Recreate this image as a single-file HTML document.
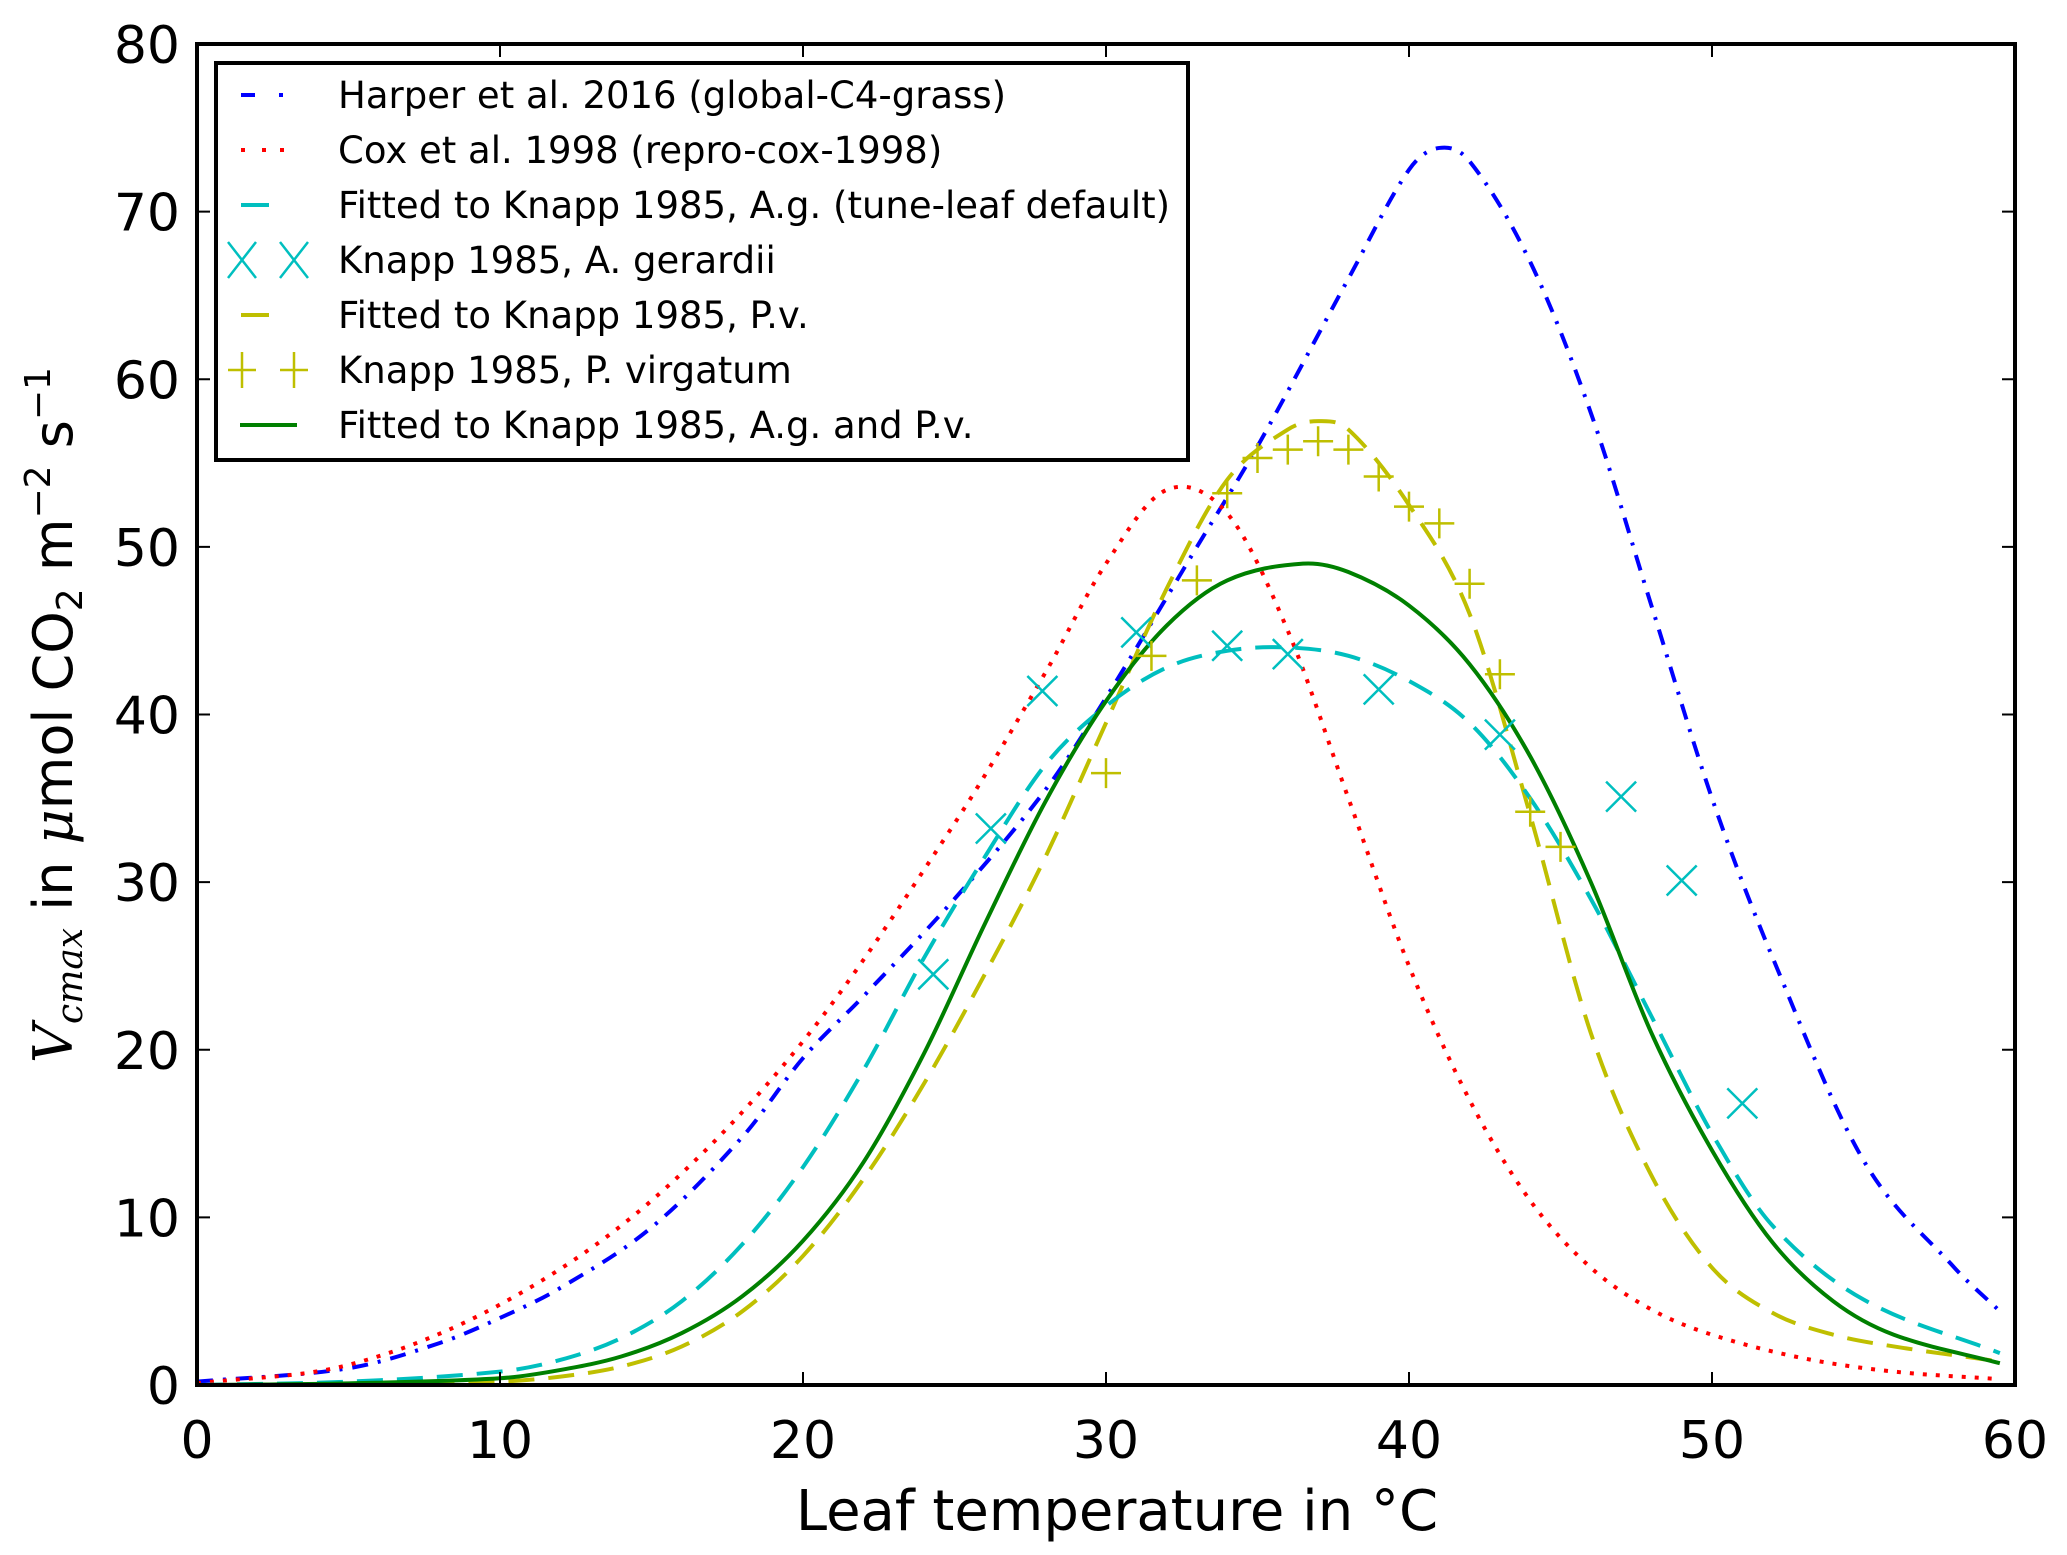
<!DOCTYPE html>
<html><head><meta charset="utf-8"><style>
html,body{margin:0;padding:0;background:#fff;}
svg{display:block;font-family:"DejaVu Sans","Liberation Sans",sans-serif;}
</style></head><body>
<svg id="chart" width="2067" height="1555" viewBox="0 0 2067 1555">
<rect width="2067" height="1555" fill="#fff"/>
<g id="curves"></g>
<g id="axes"></g>
<g id="legend"></g>
<text x="1117" y="1530" text-anchor="middle" font-size="56">Leaf temperature in °C</text>
<text transform="translate(72,715) rotate(-90)" text-anchor="middle" font-size="54"><tspan font-family="DejaVu Serif,serif" font-style="italic">V</tspan><tspan font-family="DejaVu Serif,serif" font-style="italic" font-size="36" dy="10">cmax</tspan><tspan dy="-10"> in </tspan><tspan font-family="DejaVu Serif,serif" font-style="italic">μ</tspan><tspan>mol CO</tspan><tspan font-size="36" dy="10">2</tspan><tspan dy="-10"> m</tspan><tspan font-size="36" dy="-22">−2</tspan><tspan dy="22"> s</tspan><tspan font-size="36" dy="-22">−1</tspan></text>
</svg>
<script>
const xTicks=[0,10,20,30,40,50,60];
const yTicks=[0,10,20,30,40,50,60,70,80];
const harperT=[0,5,8,10,12,15,18,20,22,25,28,30,33,35,38,40,41,42,44,46,48,50,52,55,58,59.5];
const harperV=[0.2,1,2.5,4,5.8,9.4,14.8,19.5,23.2,29,35.5,41,50,56,66,72.5,73.8,73,67,58,46.5,35,25.5,13.4,7,4.4];
const coxT=[0,5,10,15,20,25,28,30,32,34,36,38,40,42,44,46,48,50,53,56,59.5];
const coxV=[0.1,1.2,4.8,11,20.5,33.5,42.5,49,53.4,52,45,35,25,17,11,7,4.5,3,1.6,0.8,0.35];
const fitAgT=[0,5,10,12,14,16,18,20,22,24,26,28,30,32,34,36,38,40,42,44,46,48,50,52,55,59.5];
const fitAgV=[0,0.2,0.8,1.5,2.8,5,8.4,13,18.8,25.5,31.5,37,40.5,42.8,43.8,44,43.5,42,39.5,35,29,22,15,9.5,5.1,1.9];
const fitPvT=[5,10,12,14,16,18,20,22,24,26,28,30,32,34,36,37,38,40,42,44,46,48,50,52,54,56,59.5];
const fitPvV=[0,0.2,0.5,1.1,2.3,4.4,7.7,12.3,18,24.5,31.5,39.5,47.5,54,57,57.5,57,52.5,46,34,21,12.5,7,4.3,3,2.3,1.4];
const fitBothT=[0,5,10,12,14,16,18,20,22,24,26,28,30,32,34,36.5,38,40,42,44,46,48,50,52,54,56,59.5];
const fitBothV=[0,0.1,0.4,0.9,1.7,3.1,5.3,8.6,13.3,19.8,27.5,34.8,40.8,45.3,48,49,48.5,46.5,43,37.5,30,21,14,8.5,5,3,1.3];
const agT=[24.3,26.2,27.9,31,34,36,39,43,47,49,51];
const agV=[24.5,33.2,41.4,44.9,44.1,43.6,41.5,38.8,35.1,30.1,16.8];
const pvT=[30,31.5,33,34,35,36,37,38,39,40,41,42,43,44,45];
const pvV=[36.5,43.5,48,53.2,55.3,55.8,56.3,55.8,54.2,52.4,51.4,47.8,42.4,34.2,32.1];

const X0=197,X1=2015,Y0=1385,Y1=44;
const sx=t=>X0+(t-0)/60*(X1-X0);
const sy=v=>Y0-(v/80)*(Y0-Y1);
const NS="http://www.w3.org/2000/svg";
function mk(tag,attrs,parent){const e=document.createElementNS(NS,tag);for(const k in attrs)e.setAttribute(k,attrs[k]);parent.appendChild(e);return e;}
function pathD(T,V){const n=T.length;const m=[];
for(let i=0;i<n;i++){if(i==0)m.push((V[1]-V[0])/(T[1]-T[0]));else if(i==n-1)m.push((V[n-1]-V[n-2])/(T[n-1]-T[n-2]));
else m.push((V[i+1]-V[i-1])/(T[i+1]-T[i-1]));}
let d="M"+sx(T[0])+","+sy(V[0]);
for(let i=0;i<n-1;i++){const h=T[i+1]-T[i];
d+=` C${sx(T[i]+h/3)},${sy(V[i]+m[i]*h/3)} ${sx(T[i+1]-h/3)},${sy(V[i+1]-m[i+1]*h/3)} ${sx(T[i+1])},${sy(V[i+1])}`;}
return d;}
const curves=document.getElementById('curves');
const series=[
 [harperT,harperV,'#0000ff','16 10 3 10','harper-2016-line'],
 [coxT,coxV,'#ff0000','4 9','cox-1998-line'],
 [fitPvT,fitPvV,'#bfbf00','26 14','fitted-pv-line'],
 [fitAgT,fitAgV,'#00bfbf','26 14','fitted-ag-line'],
 [fitBothT,fitBothV,'#008000','none','fitted-ag-pv-line']];
series.forEach(s=>{const el=mk('path',{d:pathD(s[0],s[1]),fill:'none',stroke:s[2],'stroke-width':4,'stroke-dasharray':s[3]},curves);

});
const m=15;
agT.forEach((t,i)=>{const x=sx(t),y=sy(agV[i]);
const g=mk('path',{d:`M${x-m},${y-m}L${x+m},${y+m}M${x-m},${y+m}L${x+m},${y-m}`,stroke:'#00bfbf','stroke-width':2.5,fill:'none'},curves);

});
pvT.forEach((t,i)=>{const x=sx(t),y=sy(pvV[i]);
const g=mk('path',{d:`M${x-m},${y}L${x+m},${y}M${x},${y-m}L${x},${y+m}`,stroke:'#bfbf00','stroke-width':2.5,fill:'none'},curves);

});
const axes=document.getElementById('axes');
const fr=mk('rect',{x:X0,y:Y1,width:X1-X0,height:Y0-Y1,fill:'none',stroke:'#000','stroke-width':4},axes);


xTicks.forEach(t=>{const x=sx(t);
mk('path',{d:`M${x},${Y0}v-13M${x},${Y1}v13`,stroke:'#000','stroke-width':2},axes);
const l=mk('text',{x:x,y:1458,'text-anchor':'middle','font-size':52},axes);l.textContent=t;

});
yTicks.forEach(v=>{const y=sy(v);
mk('path',{d:`M${X0},${y}h13M${X1},${y}h-13`,stroke:'#000','stroke-width':2},axes);
const l=mk('text',{x:180,y:y+19,'text-anchor':'end','font-size':52},axes);l.textContent=v;

});
const lg=document.getElementById('legend');
const lb=mk('rect',{x:216,y:63,width:972,height:397,fill:'#fff',stroke:'#000','stroke-width':4},lg);


const labels=["Harper et al. 2016 (global-C4-grass)","Cox et al. 1998 (repro-cox-1998)","Fitted to Knapp 1985, A.g. (tune-leaf default)","Knapp 1985, A. gerardii","Fitted to Knapp 1985, P.v.","Knapp 1985, P. virgatum","Fitted to Knapp 1985, A.g. and P.v."];
labels.forEach((s,i)=>{const y=95+i*55;
if(i==0){mk('path',{d:`M241,${y}h14M279,${y}h4`,stroke:'#0000ff','stroke-width':4},lg);}
if(i==1){mk('path',{d:`M241,${y}h4M262,${y}h4M280,${y}h4`,stroke:'#ff0000','stroke-width':4},lg);}
if(i==2){mk('path',{d:`M241,${y}h28`,stroke:'#00bfbf','stroke-width':4},lg);}
if(i==4){mk('path',{d:`M241,${y}h28`,stroke:'#bfbf00','stroke-width':4},lg);}
if(i==6){mk('path',{d:`M240,${y}h57`,stroke:'#008000','stroke-width':4},lg);}
if(i==3){[242,294].forEach(x=>mk('path',{d:`M${x-14},${y-18}L${x+14},${y+18}M${x-14},${y+18}L${x+14},${y-18}`,stroke:'#00bfbf','stroke-width':2.5},lg));}
if(i==5){[242,294].forEach(x=>mk('path',{d:`M${x-14},${y}h28M${x},${y-18}v36`,stroke:'#bfbf00','stroke-width':2.5},lg));}
const t=mk('text',{x:338,y:y+13,'font-size':37},lg);t.textContent=s;

});
</script>
</body></html>
